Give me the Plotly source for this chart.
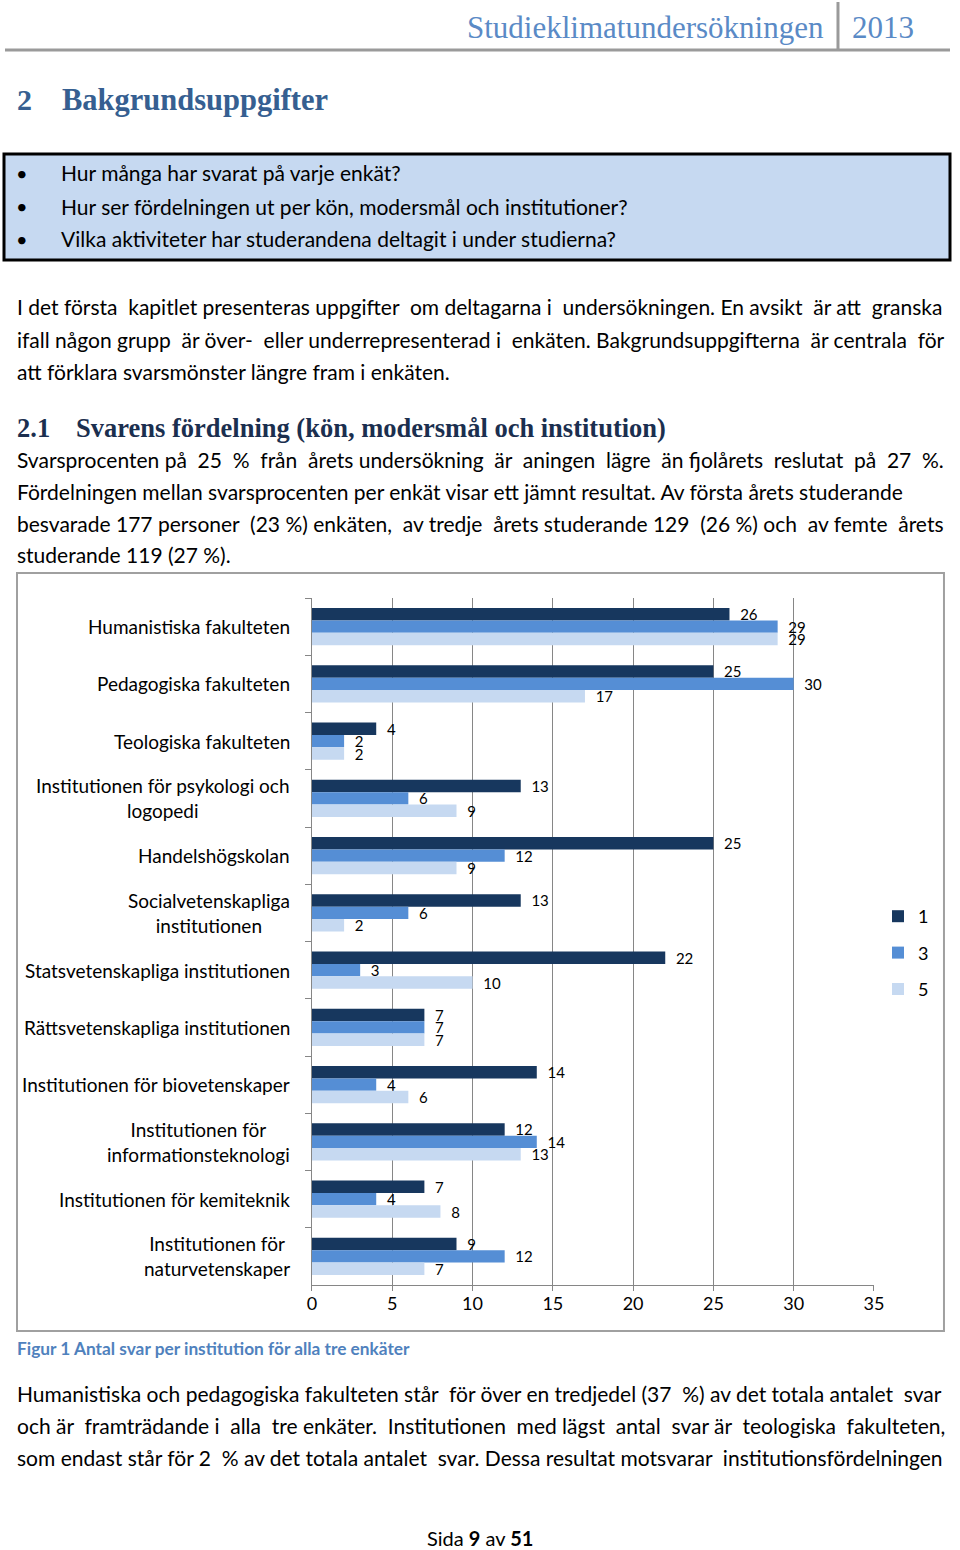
import plotly.graph_objects as go

# Data
institutioner = [
    "Humanistiska fakulteten",
    "Pedagogiska fakulteten",
    "Teologiska fakulteten",
    "Institutionen för psykologi och<br>logopedi",
    "Handelshögskolan",
    "Socialvetenskapliga<br>institutionen",
    "Statsvetenskapliga institutionen",
    "Rättsvetenskapliga institutionen",
    "Institutionen för biovetenskaper",
    "Institutionen för<br>informationsteknologi",
    "Institutionen för kemiteknik",
    "Institutionen för<br>naturvetenskaper",
]
enkat_1 = [26, 25, 4, 13, 25, 13, 22, 7, 14, 12, 7, 9]
enkat_3 = [29, 30, 2, 6, 12, 6, 3, 7, 4, 14, 4, 12]
enkat_5 = [29, 17, 2, 9, 9, 2, 10, 7, 6, 13, 8, 7]
serier = ["1", "3", "5"]
farger = ["#17375E", "#558ED5", "#C6D9F1"]
x_ticks = [0, 5, 10, 15, 20, 25, 30, 35]

W, H = 960, 1550
SANS = "Lato"
SERIF = "Liberation Serif"
# the page snapshot comes out squeezed a bit horizontally, compensate
SX, OX = 0.9844, 5


def px(x):
    # pixel column -> paper x
    return (x - OX) / SX / W


def py(p):
    # pixel row -> paper y
    return 1 - p / H


def text_at(x, y, txt, size, color="#000000", family=SANS, anchor="left"):
    fig.add_annotation(x=px(x), y=py(y), xref="paper", yref="paper", text=txt,
                       showarrow=False, xanchor=anchor, yanchor="middle",
                       font=dict(family=family, size=size, color=color))


def justify(line, extra):
    # crude justification: spread `extra` additional spaces over the gaps
    words = line.split(" ")
    gaps = len(words) - 1
    out = words[0]
    for i in range(gaps):
        n = (i + 1) * extra // gaps - i * extra // gaps
        out += " " + "\u00a0" * n + words[i + 1]
    return out


fig = go.Figure()
for namn, vals, col in zip(serier, [enkat_1, enkat_3, enkat_5], farger):
    fig.add_trace(go.Bar(
        y=institutioner, x=vals, name=namn, orientation="h",
        marker=dict(color=col, line=dict(width=0)),
        text=vals, texttemplate="\u00a0\u00a0%{x}", textposition="outside",
        textangle=0, constraintext="none", cliponaxis=False,
        textfont=dict(family=SANS, size=15, color="#000000"),
        legendgroup=namn,
    ))

fig.update_layout(
    width=W, height=H, margin=dict(l=0, r=0, t=0, b=0),
    paper_bgcolor="white", plot_bgcolor="white",
    barmode="group", bargap=0.345, bargroupgap=0,
    font=dict(family=SANS, color="#000000"),
    showlegend=True,
    legend=dict(x=px(878), y=py(898), xanchor="left", yanchor="top",
                font=dict(family=SANS, size=18), traceorder="grouped",
                tracegroupgap=10, bgcolor="rgba(0,0,0,0)"),
    xaxis=dict(domain=[px(312), px(874)], range=[0, 35], tickvals=x_ticks,
               showgrid=True, gridcolor="#868686", gridwidth=1,
               showline=True, linecolor="#868686", linewidth=1,
               ticks="outside", ticklen=5, tickcolor="#868686",
               ticklabelstandoff=-3,
               tickfont=dict(family=SANS, size=18, color="#000000"),
               zeroline=False, fixedrange=True),
    yaxis=dict(domain=[py(1285), py(598)], autorange="reversed",
               showticklabels=False, showline=True, linecolor="#868686",
               linewidth=1, ticks="outside", ticklen=6, tickcolor="#868686",
               tickson="boundaries", showgrid=False, fixedrange=True),
)

# category labels (centered multi-line like the original)
for inst in institutioner:
    fig.add_annotation(x=px(292), xref="paper", y=inst, yref="y",
                       text=inst, showarrow=False, xanchor="right", yanchor="middle",
                       align="center", font=dict(family=SANS, size=19, color="#000000"))

# chart frame
fig.add_shape(type="rect", xref="paper", yref="paper",
              x0=px(17), x1=px(944), y0=py(1331), y1=py(573),
              line=dict(color="#A0A0A0", width=2), layer="below")

# page header
fig.add_shape(type="line", xref="paper", yref="paper", x0=0, x1=1,
              y0=py(50), y1=py(50), line=dict(color="#9A9A9A", width=3))
fig.add_shape(type="line", xref="paper", yref="paper", x0=px(838), x1=px(838),
              y0=py(51), y1=py(2), line=dict(color="#9A9A9A", width=3))
text_at(826, 27, "Studieklimatundersökningen", 31, "#5A8AC6", SERIF, "right")
text_at(850, 27, "2013", 31, "#5A8AC6", SERIF)

text_at(15, 100, "<b>2</b>", 30, "#365F91", SERIF)
text_at(60, 100, "<b>Bakgrundsuppgifter</b>", 30.5, "#365F91", SERIF)

# question box
fig.add_shape(type="rect", xref="paper", yref="paper",
              x0=px(4), x1=1, y0=py(260), y1=py(154),
              fillcolor="#C6D9F1", line=dict(color="#000000", width=3), layer="below")
fragor = ["Hur många har svarat på varje enkät?",
          "Hur ser fördelningen ut per kön, modersmål och institutioner?",
          "Vilka aktiviteter har studerandena deltagit i under studierna?"]
for i, q in enumerate(fragor):
    text_at(22, 173 + 33 * i, "•", 20, anchor="center")
    text_at(59, 173 + 33 * i, q, 21)

# (row, text, extra spaces for justification)
body = [
    (307, "I det första kapitlet presenteras uppgifter om deltagarna i undersökningen. En avsikt är att granska", 5),
    (339, "ifall någon grupp är över- eller underrepresenterad i enkäten. Bakgrundsuppgifterna är centrala för", 5),
    (371, "att förklara svarsmönster längre fram i enkäten.", 0),
    (460, "Svarsprocenten på 25 % från årets undersökning är aningen lägre än fjolårets reslutat på 27 %.", 12),
    (491, "Fördelningen mellan svarsprocenten per enkät visar ett jämnt resultat. Av första årets studerande", 0),
    (523, "besvarade 177 personer (23 %) enkäten, av tredje årets studerande 129 (26 %) och av femte årets", 6),
    (554, "studerande 119 (27 %).", 0),
    (1393, "Humanistiska och pedagogiska fakulteten står för över en tredjedel (37 %) av det totala antalet svar", 3),
    (1425, "och är framträdande i alla tre enkäter. Institutionen med lägst antal svar är teologiska fakulteten,", 9),
    (1457, "som endast står för 2 % av det totala antalet svar. Dessa resultat motsvarar institutionsfördelningen", 3),
]
for yy, line, extra in body:
    text_at(15, yy, justify(line, extra), 21)

text_at(15, 428, "<b>2.1</b>", 26.5, "#1B2F4F", SERIF)
text_at(74, 428, "<b>Svarens fördelning (kön, modersmål och institution)</b>", 26.5, "#1B2F4F", SERIF)

text_at(15, 1348, "<b>Figur 1 Antal svar per institution för alla tre enkäter</b>", 17.3, "#4F81BD")
text_at(480, 1538, "Sida <b>9</b> av <b>51</b>", 20, anchor="center")

fig.write_html(
    "out.html",
    config={"displayModeBar": False, "responsive": False},
    post_script=("document.documentElement.style.margin='0';"
                 "document.documentElement.style.overflow='hidden';"
                 "document.body.style.margin='0';"
                 "document.body.style.padding='0';"
                 "document.body.style.overflow='hidden';"),
)
